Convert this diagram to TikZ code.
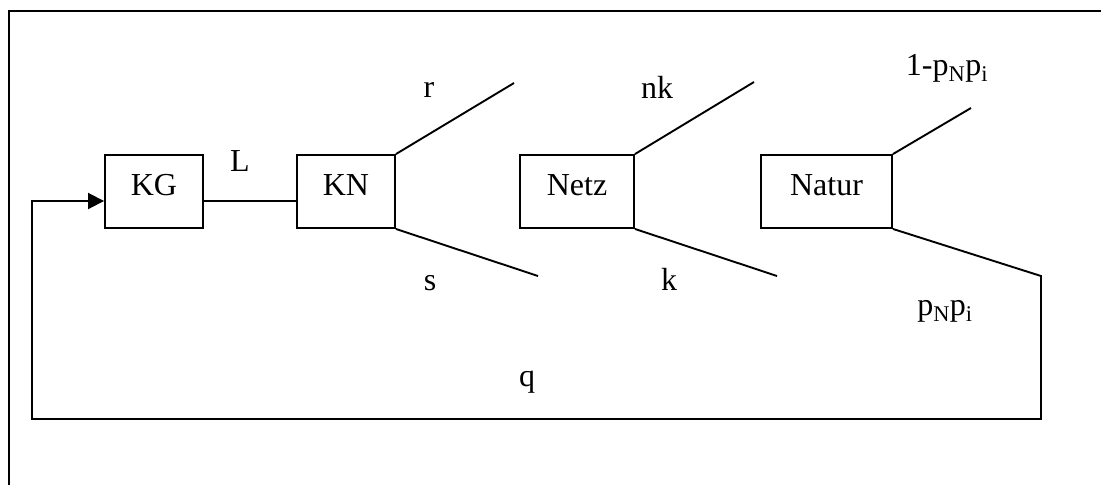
\documentclass[tikz,border=0pt]{standalone}
\usepackage{fontspec}
\setmainfont{Liberation Serif}
\usetikzlibrary{arrows.meta}
\tikzset{box/.style={
        draw,
        minimum height=73pt,
        text height=21pt, text depth=14pt,
        inner sep=0pt
    },
    lab/.style={anchor=base, inner sep=0pt}
}

\begin{document}
\begin{tikzpicture}[x=1pt, y=-1pt, line width=1.9pt,
        every node/.append style={font=\fontsize{32}{38}\selectfont}]
        \useasboundingbox (0,0) rectangle (1101,485);
        % frame
        \draw (1101,11) -- (9,11) -- (9,485);
        % boxes
        \node[box, minimum width=98pt] (KG) at (154,191.5) {KG};
        \node[box, minimum width=98pt] (KN) at (346,191.5) {KN};
        \node[box, minimum width=114pt] (Netz) at (577,191.5) {Netz};
        \node[box, minimum width=131pt] (Natur) at (826.5,191.5) {Natur};
        % branch ends
        \coordinate (rEnd) at (514,83);
        \coordinate (sEnd) at (538,276);
        \coordinate (nkEnd) at (754,82);
        \coordinate (kEnd) at (777,276);
        \coordinate (oneEnd) at (971,108);
        \coordinate (pBend) at (1041,276);
        \coordinate (pDown) at (1041,419);
        \coordinate (qLeft) at (32,419);
        \coordinate (qUp) at (32,201);
        % show edges
        \draw ([yshift=-9.5pt]KG.east) -- ([yshift=-9.5pt]KN.west);
        \draw (KN.north east) -- (rEnd);
        \draw (KN.south east) -- (sEnd);
        \draw (Netz.north east) -- (nkEnd);
        \draw (Netz.south east) -- (kEnd);
        \draw (Natur.north east) -- (oneEnd);
        \draw[-{Triangle[length=16pt,width=16pt]}] (Natur.south east) -- (pBend) -- (pDown)
            -- (qLeft) -- (qUp) -- ([yshift=-9.5pt]KG.west);
        % labels
        \node[lab] (labL) at (240,171) {L};
        \node[lab] (labR) at (429,97) {r};
        \node[lab] (labS) at (430,290) {s};
        \node[lab] (labNk) at (657,98) {nk};
        \node[lab] (labK) at (669,290) {k};
        \node[lab] (labOne) at (947,75) {1-p\textsubscript{N}p\textsubscript{i}};
        \node[lab] (labP) at (945,315) {p\textsubscript{N}p\textsubscript{i}};
        \node[lab] (labQ) at (527,386) {q};
    \end{tikzpicture}
\end{document}
